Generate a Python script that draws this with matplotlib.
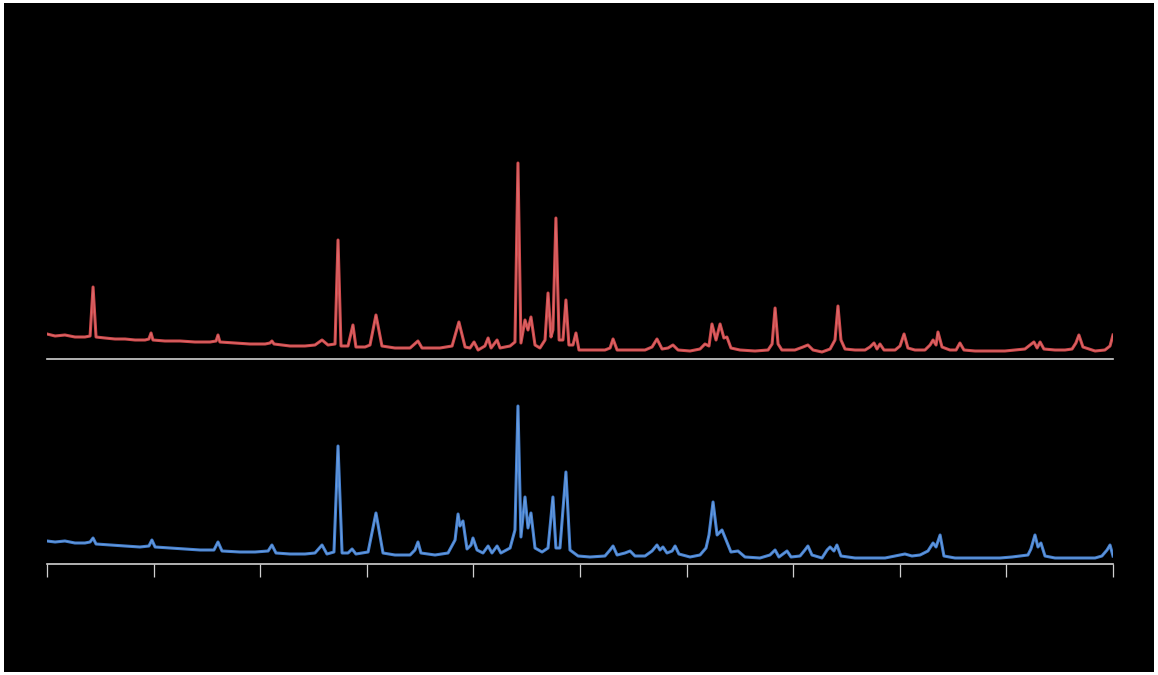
import matplotlib
matplotlib.use("Agg")
from matplotlib import pyplot as plt, patches

# 2-theta positions (deg) and intensities (a.u.)
red_two_theta = [
    10.00, 10.38, 10.84, 11.31, 11.78, 12.02, 12.16, 12.30, 12.72, 13.19,
    13.66, 14.13, 14.60, 14.78, 14.88, 14.97, 15.53, 16.24, 16.94, 17.65,
    17.93, 18.02, 18.11, 18.82, 19.52, 20.23, 20.46, 20.55, 20.65, 21.40,
    22.10, 22.57, 22.90, 23.18, 23.51, 23.65, 23.79, 24.12, 24.35, 24.49,
    24.92, 25.15, 25.43, 25.71, 26.32, 27.03, 27.40, 27.59, 28.43, 29.00,
    29.32, 29.61, 29.84, 30.03, 30.22, 30.54, 30.69, 30.83, 31.11, 31.25,
    31.72, 31.95, 32.09, 32.23, 32.42, 32.56, 32.70, 32.89, 33.12, 33.36,
    33.50, 33.64, 33.73, 33.87, 34.02, 34.20, 34.34, 34.48, 34.67, 34.81,
    34.95, 35.47, 36.17, 36.41, 36.55, 36.74, 37.35, 38.05, 38.38, 38.61,
    38.85, 39.13, 39.36, 39.60, 40.16, 40.63, 40.86, 41.05, 41.19, 41.38,
    41.57, 41.75, 41.89, 42.08, 42.50, 43.21, 43.82, 44.01, 44.15, 44.29,
    44.47, 45.08, 45.46, 45.69, 45.93, 46.35, 46.73, 46.96, 47.10, 47.24,
    47.43, 47.90, 48.37, 48.60, 48.79, 48.93, 49.07, 49.26, 49.78, 50.01,
    50.20, 50.38, 50.71, 51.18, 51.42, 51.56, 51.70, 51.79, 51.98, 52.35,
    52.64, 52.82, 53.01, 53.53, 54.23, 54.93, 55.40, 55.87, 56.11, 56.29,
    56.44, 56.58, 56.76, 57.28, 57.75, 58.08, 58.26, 58.40, 58.59, 59.16,
    59.62, 59.86, 60.00,
]
red_intensity = [
    25, 23, 24, 22, 22, 23, 72, 22, 21, 20,
    20, 19, 19, 20, 26, 19, 18, 18, 17, 17,
    18, 24, 17, 16, 15, 15, 16, 18, 15, 13,
    13, 14, 19, 14, 15, 119, 13, 13, 34, 12,
    12, 14, 44, 13, 11, 11, 18, 11, 11, 13,
    37, 12, 11, 17, 9, 13, 21, 11, 19, 11,
    13, 17, 196, 16, 39, 29, 42, 14, 11, 19,
    66, 22, 29, 141, 19, 19, 59, 14, 14, 26,
    9, 9, 9, 11, 20, 9, 9, 9, 12, 20,
    10, 11, 14, 9, 8, 10, 15, 13, 35, 19,
    35, 21, 22, 11, 9, 8, 9, 15, 51, 15,
    9, 9, 12, 14, 9, 7, 10, 19, 53, 19,
    10, 9, 9, 12, 16, 10, 15, 9, 9, 13,
    25, 11, 9, 9, 14, 19, 14, 27, 12, 9,
    9, 16, 9, 8, 8, 8, 9, 10, 14, 17,
    11, 17, 10, 9, 9, 10, 16, 24, 12, 8,
    9, 13, 24,
]

blue_two_theta = [
    10.00, 10.38, 10.84, 11.31, 11.78, 12.02, 12.16, 12.30, 12.95, 13.66,
    14.36, 14.78, 14.92, 15.07, 15.77, 16.47, 17.18, 17.83, 18.02, 18.21,
    19.05, 19.76, 20.37, 20.55, 20.74, 21.40, 22.10, 22.57, 22.90, 23.13,
    23.46, 23.65, 23.84, 24.12, 24.31, 24.49, 25.06, 25.43, 25.76, 26.32,
    27.03, 27.26, 27.40, 27.54, 28.20, 28.81, 29.14, 29.28, 29.37, 29.51,
    29.70, 29.89, 29.98, 30.17, 30.45, 30.69, 30.87, 31.11, 31.29, 31.72,
    31.95, 32.09, 32.23, 32.42, 32.56, 32.70, 32.89, 33.22, 33.50, 33.73,
    33.87, 34.06, 34.34, 34.53, 34.91, 35.47, 36.17, 36.41, 36.55, 36.74,
    37.11, 37.35, 37.58, 38.05, 38.38, 38.61, 38.75, 38.89, 39.08, 39.32,
    39.46, 39.64, 40.16, 40.63, 40.91, 41.05, 41.24, 41.43, 41.66, 41.85,
    42.08, 42.41, 42.74, 43.44, 43.91, 44.15, 44.33, 44.71, 44.90, 45.32,
    45.55, 45.69, 45.88, 46.35, 46.59, 46.73, 46.91, 47.05, 47.24, 47.90,
    48.60, 49.31, 49.78, 50.24, 50.57, 50.95, 51.32, 51.56, 51.70, 51.89,
    52.07, 52.59, 53.29, 54.00, 54.70, 55.26, 55.64, 56.01, 56.15, 56.34,
    56.48, 56.62, 56.81, 57.28, 57.98, 58.69, 59.16, 59.48, 59.72, 59.86,
    60.00,
]
blue_intensity = [
    23, 22, 23, 21, 21, 22, 26, 20, 19, 18,
    17, 18, 24, 17, 16, 15, 14, 14, 22, 13,
    12, 12, 13, 19, 11, 10, 10, 11, 19, 10,
    12, 118, 11, 11, 15, 10, 12, 51, 11, 9,
    9, 14, 22, 11, 9, 11, 24, 50, 38, 43,
    15, 19, 26, 14, 11, 18, 11, 18, 11, 16,
    34, 158, 27, 67, 36, 51, 16, 12, 16, 67,
    16, 16, 92, 14, 8, 7, 8, 14, 18, 9,
    11, 13, 8, 8, 13, 19, 14, 17, 11, 13,
    18, 10, 7, 9, 16, 29, 62, 29, 34, 24,
    12, 13, 7, 6, 9, 14, 7, 13, 7, 8,
    14, 18, 9, 6, 14, 17, 13, 19, 8, 6,
    6, 6, 8, 10, 8, 9, 13, 21, 17, 29,
    8, 6, 6, 6, 6, 7, 8, 9, 15, 29,
    17, 21, 8, 6, 6, 6, 6, 8, 14, 19,
    8,
]

x_ticks = [10, 15, 20, 25, 30, 35, 40, 45, 50, 55, 60]

fig = plt.figure(figsize=(11.58, 6.75), dpi=100)
fig.patch.set_facecolor('white')
# black panel inside a thin white frame
fig.patches.append(patches.Rectangle((4 / 1158, 3 / 675), 1150 / 1158, 669 / 675,
                                     transform=fig.transFigure, facecolor='black',
                                     edgecolor='none', zorder=-10))

ax_top = fig.add_axes([47 / 1158, 1 - 359 / 675, 1066 / 1158, 209 / 675])
ax_bot = fig.add_axes([47 / 1158, 1 - 564 / 675, 1066 / 1158, 184 / 675])

axis_color = '#d0d0d0'
for ax in (ax_top, ax_bot):
    ax.set_facecolor('none')
    for side in ('top', 'left', 'right'):
        ax.spines[side].set_visible(False)
    ax.spines['bottom'].set_color(axis_color)
    ax.spines['bottom'].set_linewidth(1.2)
    ax.set_xlim(10, 60)
    ax.set_yticks([])

ax_top.set_ylim(0, 209)
ax_bot.set_ylim(0, 184)

ax_top.plot(red_two_theta, red_intensity, color='#cf4a4c', lw=2.2, solid_joinstyle='round')
ax_top.plot(red_two_theta, red_intensity, color='#ee9a9a', lw=0.6, alpha=0.45)
ax_top.set_xticks([])

ax_bot.plot(blue_two_theta, blue_intensity, color='#4580d0', lw=2.2, solid_joinstyle='round')
ax_bot.plot(blue_two_theta, blue_intensity, color='#a3c8ee', lw=0.6, alpha=0.45)
ax_bot.set_xticks(x_ticks)
ax_bot.set_xticklabels([])
ax_bot.tick_params(axis='x', direction='out', length=9, width=0.9, color=axis_color)

fig.savefig('out.png', dpi=100, facecolor=fig.get_facecolor())
